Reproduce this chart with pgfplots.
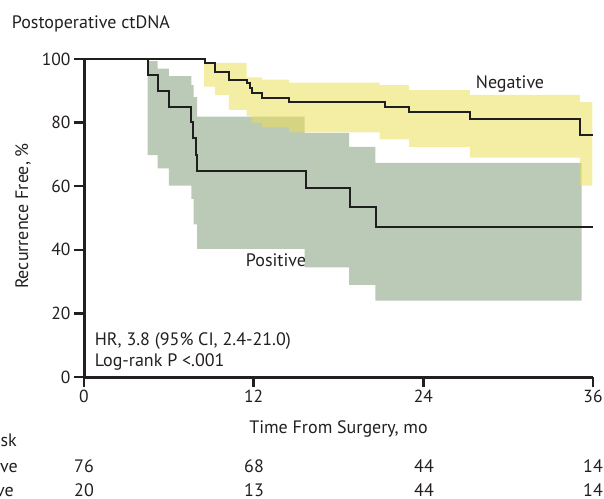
\documentclass[border=0pt]{standalone}
\usepackage{pgfplots}
\pgfplotsset{compat=1.18}
\usepackage{fontspec}
\setmainfont{PT Sans}
\definecolor{posband}{RGB}{186,202,182}
\definecolor{negband}{RGB}{235,222,90}
\definecolor{txt}{RGB}{35,31,32}
\begin{document}
\begin{tikzpicture}[x=1pt,y=1pt, font=\fontsize{18}{21}\selectfont, text=txt]
\useasboundingbox (0,0) rectangle (604,498);
\begin{axis}[at={(84pt,121pt)}, anchor=south west, scale only axis,
  width=509pt, height=318pt, xmin=0, xmax=36, ymin=0, ymax=100,
  axis lines=left, axis line style={-, line width=3pt, txt},
  xtick={0,12,24,36}, ytick={0,20,40,60,80,100},
  tick align=outside, major tick length=10pt,
  tick style={line width=2.5pt, txt}, clip=false,
  /pgf/number format/assume math mode=true,
  ticklabel style={font=\fontsize{17.5}{20}\selectfont, text=txt}]
% Positive 95% CI band
\addplot[draw=none, fill=posband] coordinates {
 (4.5,99.3) (5.2,99.3) (5.2,97.0) (6.0,97.0) (6.0,94.6) (7.6,94.6) (7.6,91.8)
 (7.75,91.8) (7.75,88.0) (8.0,88.0) (8.0,81.9) (15.6,81.9) (15.6,76.8)
 (18.75,76.8) (18.75,72.4) (20.6,72.4) (20.6,67.3) (35.2,67.3)
 (35.2,24.0) (20.6,24.0) (20.6,29.0) (18.75,29.0) (18.75,34.5) (15.6,34.5)
 (15.6,40.3) (8.0,40.3) (8.0,48.0) (7.75,48.0) (7.75,56.0) (7.6,56.0)
 (7.6,60.2) (6.0,60.2) (6.0,65.6) (5.2,65.6) (5.2,69.8) (4.5,69.8)} -- cycle;
% Negative 95% CI band
\addplot[draw=none, fill=negband, fill opacity=0.55] coordinates {
 (8.5,98.8) (11.5,98.8) (11.5,94.2) (12.6,94.2) (12.6,93.5) (14.5,93.5)
 (14.5,92.6) (20.9,92.6) (20.9,91.8) (23.0,91.8) (23.0,90.2) (27.3,90.2)
 (27.3,88.7) (35.08,88.7) (35.08,86.4) (35.95,86.4)
 (35.95,60.2) (35.08,60.2) (35.08,69.0) (27.3,69.0) (27.3,72.4) (23.0,72.4)
 (23.0,74.7) (20.9,74.7) (20.9,76.9) (14.5,76.9) (14.5,78.5) (12.6,78.5)
 (12.6,80.0) (11.86,80.0) (11.86,82.0) (11.5,82.0) (11.5,84.0) (10.25,84.0)
 (10.25,88.7) (9.26,88.7) (9.26,91.3) (8.5,91.3)} -- cycle;
% Negative KM curve
\addplot[const plot, line width=2pt, color=black!88] coordinates {
 (0,100) (8.56,98.6) (9.26,96.0) (10.25,93.4) (11.5,92.3) (11.74,90.8)
 (11.86,89.4) (12.57,87.8) (14.5,86.6) (21.3,85.0) (22.98,83.3) (27.3,81.0)
 (35.08,76.1) (36,76.1)};
% Positive KM curve
\addplot[const plot, line width=2pt, color=black!88] coordinates {
 (0,100) (4.5,95.0) (5.2,89.9) (6.0,85.0) (7.6,80.3) (7.73,75.0) (7.9,69.8)
 (8.0,64.9) (15.7,59.3) (18.8,53.4) (20.65,47.1) (36,47.1)};
\end{axis}
% texts
\node[anchor=base west, inner sep=0pt] at (11.7,469) {Postoperative ctDNA};
\node[rotate=90, inner sep=0pt] at (23,282) {Recurrence Free, \%};
\node[anchor=base, inner sep=0pt] at (510,409) {Negative};
\node[anchor=base, inner sep=0pt] at (276,231) {Positive};
\node[anchor=base west, inner sep=0pt] at (94.7,153) {HR, 3.8 (95\% CI, 2.4-21.0)};
\node[anchor=base west, inner sep=0pt] at (94.7,132) {Log-rank P <.001};
\node[anchor=base, inner sep=0pt] at (338.5,65) {Time From Surgery, mo};
% number at risk
\node[anchor=base east, inner sep=0pt] at (17,52) {No. at risk};
\node[anchor=base east, inner sep=0pt] at (18,26) {Negative};
\node[anchor=base east, inner sep=0pt] at (14,2) {Positive};
\foreach \x/\a/\b in {84/76/20, 254/68/13, 424/44/44, 593/14/14} {
  \node[anchor=base, inner sep=0pt] at (\x,26) {\a};
  \node[anchor=base, inner sep=0pt] at (\x,2) {\b};
}
\end{tikzpicture}
\end{document}
